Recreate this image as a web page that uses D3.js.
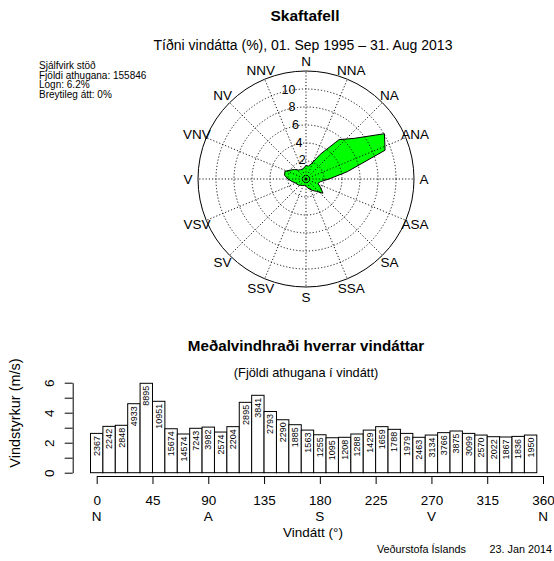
<!DOCTYPE html>
<html>
<head>
<meta charset="utf-8">
<script src="https://cdn.jsdelivr.net/npm/d3@7"></script>
<style>
  body { margin: 0; background: #fff; }
  text { font-family: "Liberation Sans", Arial, sans-serif; fill: #000; }
</style>
</head>
<body>
<div id="chart-div"></div>
<script>
// wind direction sectors (degrees), one per bar / rose vertex
const directions = [0, 10, 20, 30, 40, 50, 60, 70, 80, 90, 100, 110, 120, 130, 140, 150, 160, 170,
    180, 190, 200, 210, 220, 230, 240, 250, 260, 270, 280, 290, 300, 310, 320, 330, 340, 350];

// observations per direction
const counts = [2367, 2242, 2848, 4933, 8895, 10951, 15674, 14574, 7243, 3982, 2574, 2204,
    2895, 3841, 2793, 2290, 1885, 1563, 1255, 1095, 1208, 1288, 1429, 1659,
    1788, 1979, 2463, 3134, 3766, 3875, 3099, 2570, 2022, 1867, 1836, 1950];

// frequency of each direction (%)
const freqPct = [1.52, 1.44, 1.83, 3.17, 5.71, 7.03, 10.06, 9.35, 4.65, 2.56, 1.65, 1.41,
    1.86, 2.46, 1.79, 1.47, 1.21, 1.00, 0.81, 0.70, 0.78, 0.83, 0.92, 1.06,
    1.15, 1.27, 1.58, 2.01, 2.42, 2.49, 1.99, 1.65, 1.30, 1.20, 1.18, 1.25];

// mean wind speed per direction (m/s)
const meanSpeed = [2.62, 3.09, 3.16, 4.60, 5.96, 4.76, 2.93, 2.58, 2.96, 3.04, 2.71, 3.07,
    4.69, 5.16, 4.08, 3.53, 3.20, 2.84, 2.53, 2.33, 2.36, 2.58, 2.84, 3.07,
    2.89, 2.62, 2.36, 2.51, 2.67, 2.78, 2.62, 2.51, 2.40, 2.38, 2.42, 2.51];

const compassNames = ["N", "NNA", "NA", "ANA", "A", "ASA", "SA", "SSA",
    "S", "SSV", "SV", "VSV", "V", "VNV", "NV", "NNV"];
const ringValues = [2, 4, 6, 8, 10];
const speedTicks = [0, 1, 2, 3, 4, 5, 6];
const degTicks = [0, 45, 90, 135, 180, 225, 270, 315, 360];
const degNames = { 0: "N", 90: "A", 180: "S", 270: "V", 360: "N" };

const infoLines = ["Sjálfvirk stöð", "Fjöldi athugana: 155846", "Logn: 6.2%", "Breytileg átt: 0%"];

const svg = d3.select("#chart-div")
    .append("svg")
    .attr("width", 554)
    .attr("height", 561);

svg.append("rect").attr("width", 554).attr("height", 561).attr("fill", "#fff");

function text(str, x, y, size, anchor, weight) {
    return svg.append("text")
        .attr("x", x).attr("y", y)
        .attr("font-size", size)
        .attr("text-anchor", anchor || "middle")
        .attr("font-weight", weight || "normal")
        .text(str);
}

// titles
text("Skaftafell", 305, 20.5, 15.5, "middle", "bold");
text("Tíðni vindátta (%), 01. Sep 1995 – 31. Aug 2013", 303, 50, 14);

infoLines.forEach((s, i) => text(s, 39, 69 + i * 9.5, 10, "start"));

// ---- wind rose ----
const cx = 306, cy = 179;
const rScale = d3.scaleLinear().domain([0, 12]).range([0, 108]);
const rose = svg.append("g").attr("transform", `translate(${cx},${cy})`);
const rad = d => d * Math.PI / 180;

const radial = d3.lineRadial()
    .angle((d, i) => rad(directions[i]))
    .radius(d => rScale(d))
    .curve(d3.curveLinearClosed);

rose.append("path")
    .attr("d", radial(freqPct))
    .attr("fill", "#00ff00")
    .attr("stroke", "#000")
    .attr("stroke-width", 1);

// rings
rose.selectAll(".ring").data(ringValues).enter().append("circle")
    .attr("r", d => rScale(d))
    .attr("fill", "none")
    .attr("stroke", "#000")
    .attr("stroke-width", 0.9)
    .attr("stroke-dasharray", "1.2,2");

// spokes
rose.selectAll(".spoke").data(compassNames).enter().append("line")
    .attr("x1", 0).attr("y1", 0)
    .attr("x2", (d, i) => rScale(12) * Math.sin(rad(i * 22.5)))
    .attr("y2", (d, i) => -rScale(12) * Math.cos(rad(i * 22.5)))
    .attr("stroke", "#000")
    .attr("stroke-width", 0.9)
    .attr("stroke-dasharray", "1.2,2");

rose.append("circle")
    .attr("r", rScale(12))
    .attr("fill", "none")
    .attr("stroke", "#000")
    .attr("stroke-width", 1);

// calm marker in the centre
rose.append("circle").attr("r", 3.5).attr("fill", "none")
    .attr("stroke", "#000").attr("stroke-width", 1).attr("stroke-dasharray", "1,1");
rose.append("circle").attr("r", 1.5).attr("fill", "#000");

// ring labels, along a line a little west of north
rose.selectAll(".ringlab").data(ringValues).enter().append("text")
    .attr("x", d => -(rScale(d) + 1.5) * Math.sin(rad(11)))
    .attr("y", d => -(rScale(d) + 1.5) * Math.cos(rad(11)) + 4.5)
    .attr("font-size", 12.5)
    .attr("text-anchor", "middle")
    .text(d => d);

// compass labels
rose.selectAll(".dirlab").data(compassNames).enter().append("text")
    .attr("x", (d, i) => 118 * Math.sin(rad(i * 22.5)))
    .attr("y", (d, i) => -118 * Math.cos(rad(i * 22.5)) + 4.9)
    .attr("font-size", 13.5)
    .attr("text-anchor", "middle")
    .text(d => d);

// ---- mean speed bar chart ----
text("Meðalvindhraði hverrar vindáttar", 306, 350.5, 15.2, "middle", "bold");
text("(Fjöldi athugana í vindátt)", 306, 377, 12.8);

const xScale = d3.scaleLinear().domain([0, 360]).range([96.7, 543]);
const yScale = d3.scaleLinear().domain([0, 6]).range([472.7, 382.7]);
const barW = xScale(10) - xScale(0);

const g = svg.append("g");

g.selectAll("rect.bar").data(meanSpeed).enter().append("rect")
    .attr("class", "bar")
    .attr("x", (d, i) => xScale(directions[i]) - barW / 2)
    .attr("width", barW)
    .attr("y", d => yScale(d))
    .attr("height", d => yScale(0) - yScale(d))
    .attr("fill", "#fff")
    .attr("stroke", "#000")
    .attr("stroke-width", 1);

// observation counts written inside the bars
g.selectAll("text.cnt").data(counts).enter().append("text")
    .attr("class", "cnt")
    .attr("transform", (d, i) => `translate(${xScale(directions[i]) + 3.2},${yScale(meanSpeed[i]) + 2.5}) rotate(-90)`)
    .attr("font-size", 9)
    .attr("text-anchor", "end")
    .text(d => d);

// y axis
const yAxis = svg.append("g")
    .attr("transform", "translate(72.7,0)")
    .call(d3.axisLeft(yScale)
        .tickValues(speedTicks)
        .tickSize(8)
        .tickSizeOuter(0)
        .tickFormat(d => d % 2 === 0 ? d : ""));
yAxis.selectAll("text")
    .attr("font-size", 13.5)
    .attr("font-family", "Liberation Sans, Arial, sans-serif")
    .attr("fill", "#000")
    .attr("text-anchor", "middle")
    .attr("x", 0).attr("dy", 0).attr("y", 4.8)
    .attr("transform", "translate(-23.5,0) rotate(-90)");
yAxis.selectAll("line, path").attr("stroke", "#000");

text("Vindstyrkur (m/s)", 0, 0, 14.5)
    .attr("transform", "translate(20,413) rotate(-90)");

// x axis
const xAxis = svg.append("g")
    .attr("transform", "translate(0,476)")
    .call(d3.axisBottom(xScale)
        .tickValues(degTicks)
        .tickSize(8)
        .tickSizeOuter(0)
        .tickFormat(d => d));
xAxis.selectAll("text")
    .attr("font-size", 13.5)
    .attr("font-family", "Liberation Sans, Arial, sans-serif")
    .attr("fill", "#000")
    .attr("y", 29).attr("dy", 0);
xAxis.selectAll("line, path").attr("stroke", "#000");

degTicks.filter(d => degNames[d]).forEach(d => text(degNames[d], xScale(d), 521, 13.5));

text("Vindátt (°)", 313, 536.5, 13.5);

text("Veðurstofa Íslands", 377, 552.5, 10.8, "start");
text("23. Jan 2014", 552, 552.5, 10.8, "end");
</script>
</body>
</html>
